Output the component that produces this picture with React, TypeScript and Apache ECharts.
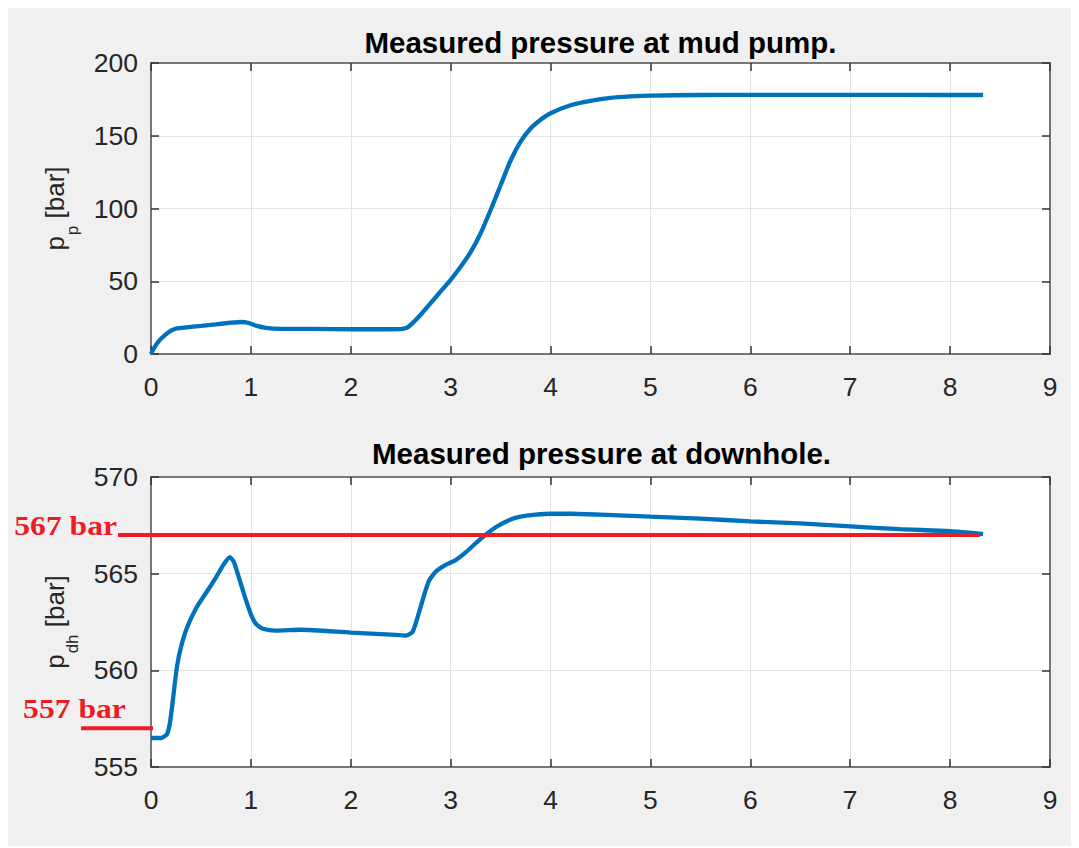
import React, { useEffect, useRef } from "react";
import * as echarts from "echarts";

// Pump pressure p_p [bar] over time
const tPump = [0, 0.03, 0.08, 0.14, 0.2, 0.26, 0.35, 0.5, 0.65, 0.8, 0.9, 0.97, 1.05, 1.15, 1.3, 1.6, 2.0, 2.3, 2.5, 2.56, 2.6, 2.7, 2.8, 2.9, 3.0, 3.1, 3.2, 3.3, 3.4, 3.5, 3.6, 3.7, 3.8, 3.9, 4.0, 4.2, 4.4, 4.6, 4.8, 5.0, 5.5, 6.0, 7.0, 8.0, 8.33];
const pPump = [0, 4, 9, 13, 16, 17.6, 18.3, 19.3, 20.4, 21.5, 22, 21.5, 19.5, 18, 17.3, 17.2, 17.0, 17.0, 17.1, 18, 20, 27, 35, 43, 51, 60, 70, 83, 99, 116, 133, 146, 155, 161, 165.5, 171, 174, 176, 177, 177.6, 178, 178.1, 178.1, 178, 178];

// Downhole pressure p_dh [bar] over time
const tDh = [0, 0.1, 0.16, 0.19, 0.22, 0.26, 0.3, 0.36, 0.45, 0.55, 0.65, 0.73, 0.79, 0.83, 0.88, 0.94, 1.0, 1.05, 1.12, 1.25, 1.5, 2.0, 2.4, 2.55, 2.62, 2.7, 2.78, 2.85, 2.95, 3.05, 3.15, 3.3, 3.45, 3.6, 3.7, 3.85, 4.0, 4.2, 4.5, 5.0, 5.5, 6.0, 6.5, 7.0, 7.5, 8.0, 8.33];
const pDh = [556.5, 556.5, 556.7, 557.3, 558.5, 560.2, 561.2, 562.2, 563.2, 564.0, 564.8, 565.5, 565.85, 565.6, 564.8, 563.8, 562.9, 562.4, 562.15, 562.05, 562.1, 561.95, 561.85, 561.8, 562.0, 563.3, 564.6, 565.1, 565.45, 565.7, 566.1, 566.8, 567.4, 567.8, 567.95, 568.05, 568.1, 568.1, 568.05, 567.95, 567.85, 567.7, 567.6, 567.45, 567.3, 567.2, 567.05];

// Reference pressure levels marked on the downhole plot
const refLevels = [567, 557];
const refLabels = ["567 bar", "557 bar"];
const refStart = [-0.33, -0.7];
const refEnd = [8.3, 0.02];

const titles = ["Measured pressure at mud pump.", "Measured pressure at downhole."];

const SANS = "Liberation Sans, Arial, Helvetica, sans-serif";
const SERIF = "Liberation Serif, Times New Roman, serif";
const TXT = "#262626";
const FRAME = "#777777";
const GRIDC = "#e3e3e3";
const BLUE = "#0072BD";
const RED = "#ed1c24";

function zip(xs: number[], ys: number[]) {
  return xs.map((x, i) => [x, ys[i]]);
}

const tick = { show: true, inside: true, length: 8, lineStyle: { color: "#333", width: 1.5 } };
const frameLine = { show: true, onZero: false, lineStyle: { color: FRAME, width: 2 } };
const tickFont = { color: TXT, fontSize: 26.5, fontFamily: SANS };

function mainX(gridIndex: number) {
  return {
    type: "value", gridIndex, position: "bottom", min: 0, max: 9, interval: 1,
    axisLine: frameLine, axisTick: tick,
    axisLabel: { ...tickFont, margin: 19 },
    splitLine: { show: true, lineStyle: { color: GRIDC, width: 1 } },
  };
}
function topX(gridIndex: number) {
  return {
    type: "value", gridIndex, position: "top", min: 0, max: 9, interval: 1,
    axisLine: frameLine, axisTick: tick, axisLabel: { show: false }, splitLine: { show: false },
  };
}
function leftY(gridIndex: number, min: number, max: number, interval: number, sub: string) {
  return {
    type: "value", gridIndex, position: "left", min, max, interval,
    name: `{p|p}{s|${sub}}{p| [bar]}`,
    nameLocation: "middle",
    nameGap: 70,
    nameTextStyle: {
      rich: {
        p: { fontSize: 26, color: TXT, fontFamily: SANS },
        s: { fontSize: 17, color: TXT, fontFamily: SANS, padding: [36, 0, 0, 1] },
      },
    },
    axisLine: frameLine, axisTick: tick,
    axisLabel: { ...tickFont, margin: 13 },
    splitLine: { show: true, lineStyle: { color: GRIDC, width: 1 } },
  };
}
function rightY(gridIndex: number, min: number, max: number, interval: number) {
  return {
    type: "value", gridIndex, position: "right", min, max, interval,
    axisLine: frameLine, axisTick: tick, axisLabel: { show: false }, splitLine: { show: false },
  };
}

export default function App() {
  const ref = useRef<HTMLDivElement>(null);

  useEffect(() => {
    if (!ref.current) return;
    const chart = echarts.init(ref.current, undefined, { renderer: "svg" });

    chart.setOption({
      animation: false,
      backgroundColor: "#f0f0f0",
      grid: [
        { left: 143, top: 55, width: 899, height: 291, show: true, backgroundColor: "#ffffff", borderWidth: 0 },
        { left: 143, top: 469, width: 899, height: 290, show: true, backgroundColor: "#ffffff", borderWidth: 0 },
      ],
      xAxis: [mainX(0), topX(0), mainX(1), topX(1)],
      yAxis: [
        leftY(0, 0, 200, 50, "p"),
        rightY(0, 0, 200, 50),
        leftY(1, 555, 570, 5, "dh"),
        rightY(1, 555, 570, 5),
      ],
      series: [
        {
          type: "line", xAxisIndex: 0, yAxisIndex: 0,
          data: zip(tPump, pPump),
          showSymbol: false, smooth: 0.2,
          lineStyle: { color: BLUE, width: 4.3 },
          z: 3,
        },
        {
          type: "line", xAxisIndex: 2, yAxisIndex: 2,
          data: zip(tDh, pDh),
          showSymbol: false, smooth: 0.2,
          lineStyle: { color: BLUE, width: 4.3 },
          z: 3,
        },
      ],
    });

    // Reference levels: positions come from the downhole axes
    const toPx = (x: number, y: number) =>
      chart.convertToPixel({ xAxisIndex: 2, yAxisIndex: 2 }, [x, y]) as number[];

    const refGraphics: any[] = [];
    refLevels.forEach((lvl, i) => {
      const a = toPx(refStart[i], lvl);
      const b = toPx(refEnd[i], lvl);
      refGraphics.push({
        type: "line",
        z: 50,
        shape: { x1: a[0], y1: a[1], x2: b[0], y2: b[1] },
        style: { stroke: RED, lineWidth: 4 },
      });
      const first = i === 0;
      refGraphics.push({
        type: "text",
        z: 50,
        x: first ? a[0] - 1 : a[0] - 58,
        y: first ? a[1] - 10 : a[1] - 20,
        scaleX: 1.13,
        style: {
          text: refLabels[i],
          font: `bold 28px ${SERIF}`,
          fill: RED,
          textAlign: first ? "right" : "left",
          textVerticalAlign: "middle",
        },
      });
    });

    chart.setOption({
      graphic: [
        {
          type: "text", x: 592.5, y: 34,
          style: { text: titles[0], font: `bold 29.5px ${SANS}`, fill: "#000", textAlign: "center", textVerticalAlign: "middle" },
        },
        {
          type: "text", x: 593.5, y: 445,
          style: { text: titles[1], font: `bold 29.5px ${SANS}`, fill: "#000", textAlign: "center", textVerticalAlign: "middle" },
        },
        ...refGraphics,
      ],
    });

    return () => chart.dispose();
  }, []);

  return (
    <div
      ref={ref}
      style={{ width: 1063, height: 838, background: "#f0f0f0", boxShadow: "8px 0 0 0 #f0f0f0" }}
    />
  );
}
